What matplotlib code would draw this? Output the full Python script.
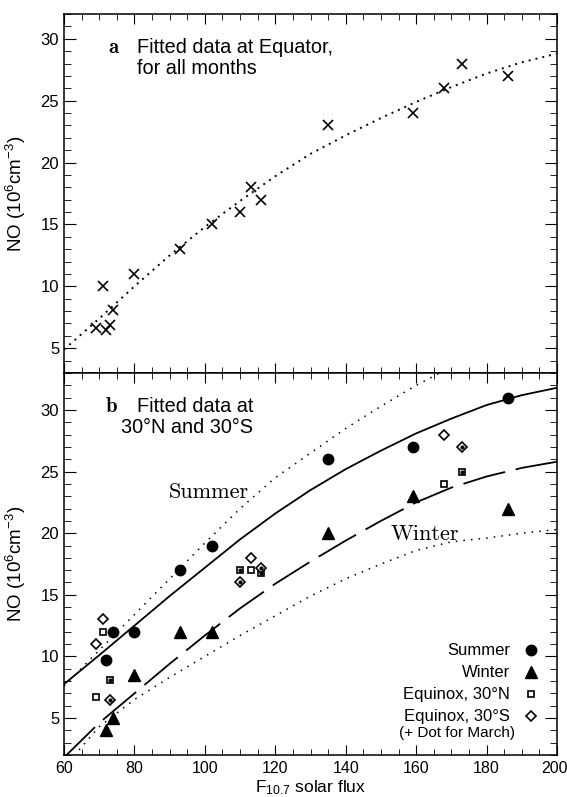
import matplotlib.pyplot as plt
from matplotlib.lines import Line2D
from matplotlib.ticker import MultipleLocator
from matplotlib.transforms import ScaledTranslation

plt.rcParams['font.family'] = ['Liberation Sans', 'DejaVu Sans']
plt.rcParams['mathtext.fontset'] = 'custom'
plt.rcParams['mathtext.rm'] = 'Liberation Sans'
plt.rcParams['mathtext.it'] = 'Liberation Sans:italic'
plt.rcParams['mathtext.bf'] = 'Liberation Sans:bold'

# panel a: equator, all months
equ_flux = [69, 71, 72, 73, 74, 80, 93, 102, 110, 113, 116, 135, 159, 168, 173, 186]
equ_no = [6.6, 10, 6.5, 6.9, 8.1, 11, 13, 15, 16, 18, 17, 23, 24, 26, 28, 27]

# fitted curves every 10 flux units
fit_flux = [60, 70, 80, 90, 100, 110, 120, 130, 140, 150, 160, 170, 180, 190, 200]
equ_fit = [4.9, 7.4, 10.0, 12.5, 14.8, 16.9, 18.9, 20.7, 22.2, 23.6, 24.9, 26.1, 27.2, 28.1, 28.8]
summer_fit = [7.75, 10.1, 12.5, 14.9, 17.2, 19.5, 21.6, 23.5, 25.2, 26.7, 28.1, 29.3, 30.4, 31.2, 31.8]
winter_fit = [1.8, 4.6, 7.0, 9.4, 11.7, 13.9, 15.9, 17.7, 19.4, 21.0, 22.5, 23.7, 24.6, 25.3, 25.8]
upper_flux = [60, 70, 80, 90, 100, 110, 120, 130, 140, 150, 160, 170]
upper_fit = [7.6, 10.5, 13.4, 16.3, 19.2, 22.0, 24.5, 26.5, 28.5, 30.3, 32.0, 33.5]
lower_fit = [1.0, 4.3, 6.5, 8.3, 10.0, 11.7, 13.3, 14.9, 16.3, 17.5, 18.6, 19.3, 19.6, 20.0, 20.3]

# panel b: 30N / 30S
sum_flux = [72, 74, 80, 93, 102, 135, 159, 186]
sum_no = [9.7, 12, 12, 17, 19, 26, 27, 31]
win_flux = [72, 74, 80, 93, 102, 135, 159, 186]
win_no = [4, 5, 8.5, 12, 12, 20, 23, 22]
eqn_flux = [71, 69, 73, 110, 113, 116, 168, 173]
eqn_no = [12, 6.7, 8.1, 17, 17, 16.8, 24, 25]
eqn_march = [False, False, True, True, False, True, False, True]
eqs_flux = [71, 69, 73, 113, 110, 116, 168, 173]
eqs_no = [13, 11, 6.5, 18, 16, 17.2, 28, 27]
eqs_march = [False, False, True, False, True, True, False, True]

ylab = 'NO (10$^{\\mathrm{6}}$cm$^{\\mathrm{-3}}$)'

fig = plt.figure(figsize=(5.67, 7.97), dpi=100)
ax1 = fig.add_axes([0.1129, 0.532, 0.8695, 0.4504])
ax2 = fig.add_axes([0.1129, 0.0527, 0.8695, 0.4793])

for ax in (ax1, ax2):
    ax.set_xlim(60, 200)
    ax.xaxis.set_major_locator(MultipleLocator(20))
    ax.xaxis.set_minor_locator(MultipleLocator(5))
    ax.yaxis.set_major_locator(MultipleLocator(5))
    ax.yaxis.set_minor_locator(MultipleLocator(1))
    ax.tick_params(which='both', direction='in', top=True, right=True)
    ax.tick_params(axis='y', which='major', length=8.5, pad=3.5, labelsize=12)
    ax.tick_params(axis='y', which='minor', length=5)
    ax.tick_params(axis='x', which='major', length=7, pad=4.5, labelsize=11.5)
    ax.tick_params(axis='x', which='minor', length=4)
    for s in ax.spines.values():
        s.set_linewidth(1.1)
    ax.set_ylabel(ylab, fontsize=13.5)
    ax.yaxis.set_label_coords(-0.073, 0.5)

# top panel
ax1.set_ylim(3, 32)
ax1.tick_params(labelbottom=False)
ax1.plot(fit_flux, equ_fit, color='black', lw=1.4, linestyle=(0, (1, 2.6)))
ax1.plot(equ_flux, equ_no, 'x', color='black', ms=7, mew=1.2)
ax1.text(72.5, 29.3, 'a', family='cmb10', fontsize=15, va='center')
ax1.text(80.7, 29.3, 'Fitted data at Equator,', fontsize=14.3, va='center')
ax1.text(80.7, 27.6, 'for all months', fontsize=14.3, va='center')

# bottom panel
ax2.set_ylim(2, 33)
ax2.plot(upper_flux, upper_fit, color='black', lw=1.1, linestyle=(0, (1, 4)))
ax2.plot(fit_flux, lower_fit, color='black', lw=1.1, linestyle=(0, (1, 4)))
ax2.plot(fit_flux, summer_fit, color='black', lw=1.3)
ax2.plot(fit_flux, winter_fit, color='black', lw=1.3, linestyle=(0, (24, 6)))

ax2.plot(sum_flux, sum_no, 'o', color='black', ms=7.5)
ax2.plot(win_flux, win_no, '^', color='black', ms=9)
ax2.plot(eqn_flux, eqn_no, 's', mfc='white', mec='black', ms=5, mew=1.2)
ax2.plot(eqs_flux, eqs_no, 'D', mfc='white', mec='black', ms=5, mew=1.2)
dot_x = [f for f, m in zip(eqn_flux, eqn_march) if m] + [f for f, m in zip(eqs_flux, eqs_march) if m]
dot_y = [v for v, m in zip(eqn_no, eqn_march) if m] + [v for v, m in zip(eqs_no, eqs_march) if m]
ax2.plot(dot_x, dot_y, 'o', color='black', ms=2)

ax2.text(71.9, 30.3, 'b', family='cmb10', fontsize=15, va='center')
ax2.text(80.7, 30.3, 'Fitted data at', fontsize=14.3, va='center')
ax2.text(76.2, 28.6, '30°N and 30°S', fontsize=14.3, va='center')
ax2.text(89.8, 23.3, 'Summer', family='cmr10', fontsize=16, va='center')
ax2.text(152.6, 19.9, 'Winter', family='cmr10', fontsize=16, va='center')

handles = [
    Line2D([], [], marker='o', color='black', ls='none', ms=7.5),
    Line2D([], [], marker='^', color='black', ls='none', ms=9),
    Line2D([], [], marker='s', mfc='white', mec='black', ls='none', ms=5, mew=1.2),
    Line2D([], [], marker='D', mfc='white', mec='black', ls='none', ms=5, mew=1.2),
]
labels = ['Summer', 'Winter', 'Equinox, 30°N', 'Equinox, 30°S']
ax2.legend(handles, labels, loc='lower right', bbox_to_anchor=(0.964, 0.08),
           markerfirst=False, frameon=False, fontsize=12, handlelength=1.0,
           handletextpad=0.75, labelspacing=0.42, borderpad=0, borderaxespad=0)
ax2.text(188.1, 3.78, '(+ Dot for March)', fontsize=11, ha='right', va='center')

ax2.set_xlabel('F$_{\\mathrm{10.7}}$ solar flux', fontsize=12.5)
ax2.xaxis.set_label_coords(0.5, -0.061)

# nudge the "200" tick label a little so it stays inside the figure
fig.canvas.draw()
for t in ax2.xaxis.get_major_ticks():
    if t.label1.get_text() == '200':
        t.label1.set_transform(t.label1.get_transform() + ScaledTranslation(-1.5 / 72, 0, fig.dpi_scale_trans))

fig.savefig('out.png', dpi=100)
